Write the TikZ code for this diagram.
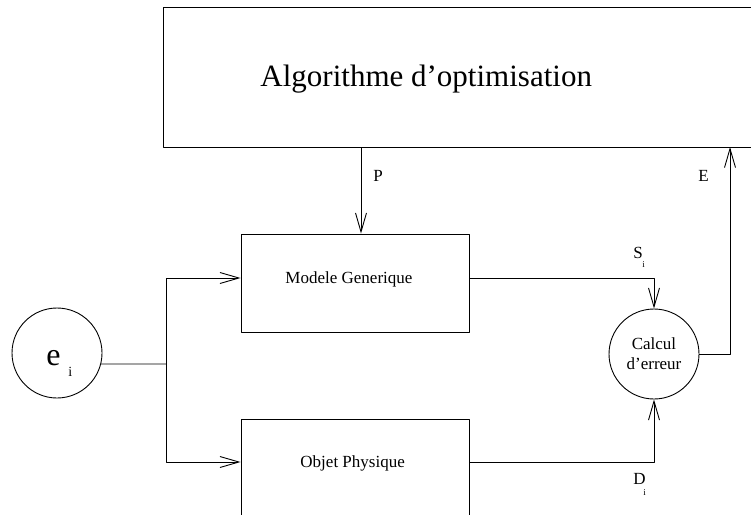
\documentclass[tikz,border=0pt]{standalone}
\usepackage{fontspec}
\setmainfont{Liberation Serif}
\usetikzlibrary{arrows.meta}

\begin{document}
\begin{tikzpicture}[
  x=1pt,
  y=-1pt,
  line join=round,
  line width=0.9pt,
  >={Straight Barb[length=19pt,width=11pt]},
  block/.style={draw,rectangle,inner sep=0pt,minimum width=228pt,minimum height=98pt},
  blocktext/.style={inner sep=0pt,anchor=base west,font=\fontsize{17}{20}\selectfont},
  bubble/.style={draw,circle,inner sep=0pt,minimum size=90pt,
    font=\fontsize{17}{20}\selectfont,align=center},
  label/.style={inner sep=0pt,anchor=base west,font=\fontsize{17}{20}\selectfont},
  tinysub/.style={inner sep=0pt,anchor=base west,font=\fontsize{9}{10}\selectfont}
]
  % Keep the original frame; the top and bottom blocks run past its edges.
  \useasboundingbox (0,0) rectangle (751,514);

  % Optimisation block across the top.
  \node[draw,rectangle,inner sep=0pt,minimum width=592pt,minimum height=140pt] (algo) at (459,77) {};
  \node[inner sep=0pt,anchor=base west,font=\fontsize{31}{35}\selectfont] (algoText) at (260,86)
    {Algorithme d'optimisation};

  % Model and physical object blocks.
  \node[block] (modele) at (355,283) {};
  \node[blocktext] (modeleText) at (285,283) {Modele Generique};
  \node[block] (objet) at (355,468) {};
  \node[blocktext] (objetText) at (300,467) {Objet Physique};

  % Input and error bubbles.
  \node[bubble] (ei) at (57,353) {};
  \node[inner sep=0pt,anchor=base west,font=\fontsize{32}{36}\selectfont] (eLetter) at (46,365) {e};
  \node[inner sep=0pt,anchor=base west,font=\fontsize{14}{16}\selectfont] (eSub) at (68,376) {i};
  \node[bubble] (calc) at (654,354) {Calcul\\d'erreur};

  % Branch point of the input and the free ends on the top block.
  \coordinate (split) at (166,364);
  \coordinate (pIn) at ([xshift=6pt]modele.north);
  \coordinate (eTop) at (730,147);

  % Input feeds both blocks.
  \draw (ei.-14) -- (split);
  \draw[->] (split) |- ([yshift=5pt]modele.west);
  \draw[->] (split) |- ([yshift=6pt]objet.west);

  % Parameters down, outputs into the error bubble, error back up.
  \draw[->] (algo.south -| pIn) -- (pIn);
  \draw[->] ([yshift=5pt]modele.east) -| (calc.north);
  \draw[->] ([yshift=6pt]objet.east) -| (calc.south);
  \draw[->] (calc.east) -| (eTop);

  % Signal labels.
  \node[label] (pLabel) at (373,181) {P};
  \node[label] (eLabel) at (698,181) {E};
  \node[label] (sLabel) at (633,258) {S};
  \node[tinysub] (sSub) at (642,267) {i};
  \node[label] (dLabel) at (633,484) {D};
  \node[tinysub] (dSub) at (643,495) {i};
\end{tikzpicture}
\end{document}
